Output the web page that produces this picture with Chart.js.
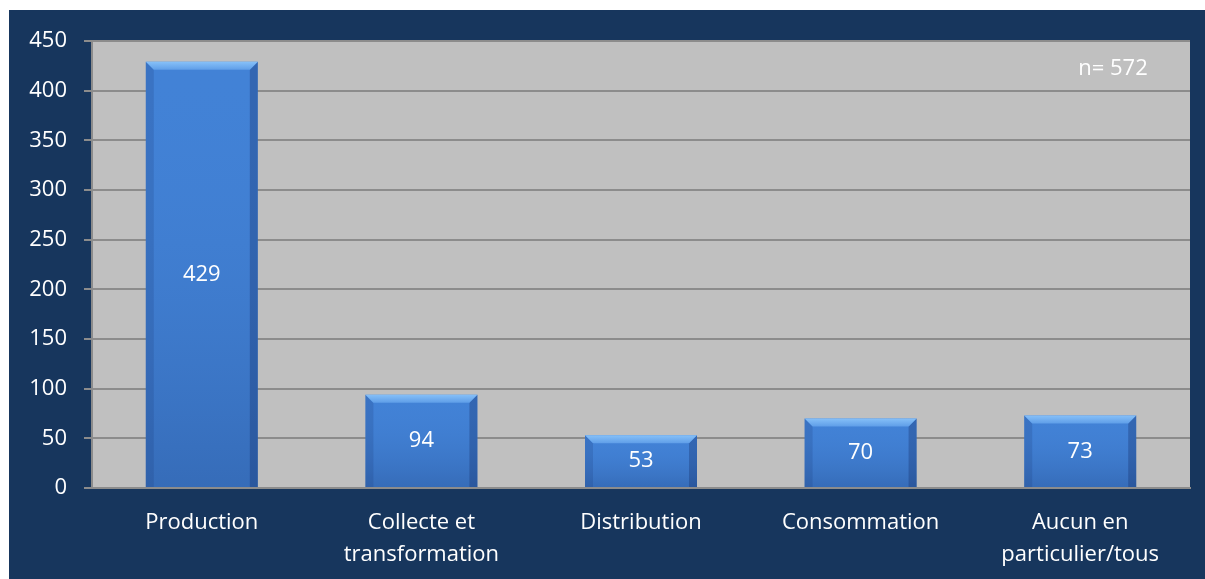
<!DOCTYPE html>
<html><head><meta charset="utf-8">
<script src="https://cdn.jsdelivr.net/npm/chart.js@4/dist/chart.umd.min.js"></script>
<style>html{background:#17365D}html,body{margin:0;padding:0;overflow:hidden}canvas{display:block}</style>
</head><body><canvas id="c" width="1205" height="579"></canvas>
<script>
const categories = [["Production"], ["Collecte et", "transformation"], ["Distribution"], ["Consommation"], ["Aucun en", "particulier/tous"]];
const values = [429, 94, 53, 70, 73];
const yTickValues = [0, 50, 100, 150, 200, 250, 300, 350, 400, 450];
const sampleNote = "n= 572";

const NAVY = '#17365D', PLOT = '#C0C0C0', GRID = '#8C8C8C';
const FONT = '"Open Sans", Lato, sans-serif';
const FSIZE = 22;

const bgPlugin = {
  id: 'bg',
  beforeDraw(chart) {
    const ctx = chart.ctx, a = chart.chartArea;
    ctx.save();
    ctx.fillStyle = '#ffffff';
    ctx.fillRect(0, 0, chart.width, chart.height);
    ctx.fillStyle = NAVY;
    ctx.fillRect(9, 10, chart.width - 9, chart.height - 10);
    ctx.fillStyle = PLOT;
    ctx.fillRect(a.left, a.top, a.right - a.left, a.bottom - a.top);
    ctx.restore();
  }
};

const barDeco = {
  id: 'barDeco',
  afterDatasetsDraw(chart) {
    const ctx = chart.ctx, a = chart.chartArea;
    const meta = chart.getDatasetMeta(0);
    ctx.save();
    meta.data.forEach((el, i) => {
      const w = el.width, l = el.x - w / 2, r = el.x + w / 2, t = el.y, b = el.base;
      const bv = 8;
      const g = ctx.createLinearGradient(0, t, 0, b);
      g.addColorStop(0, 'rgba(70,130,220,0)');
      g.addColorStop(1, 'rgba(10,30,80,0.22)');
      ctx.fillStyle = g;
      ctx.fillRect(l, t, w, b - t);
      ctx.fillStyle = 'rgba(20,50,110,0.18)';
      ctx.beginPath(); ctx.moveTo(l, t); ctx.lineTo(l + bv, t + bv); ctx.lineTo(l + bv, b); ctx.lineTo(l, b); ctx.closePath(); ctx.fill();
      ctx.fillStyle = 'rgba(15,40,95,0.3)';
      ctx.beginPath(); ctx.moveTo(r, t); ctx.lineTo(r - bv, t + bv); ctx.lineTo(r - bv, b); ctx.lineTo(r, b); ctx.closePath(); ctx.fill();
      const tg = ctx.createLinearGradient(0, t, 0, t + bv);
      tg.addColorStop(0, '#86C0F8');
      tg.addColorStop(1, '#5F9EE8');
      ctx.fillStyle = tg;
      ctx.beginPath(); ctx.moveTo(l, t); ctx.lineTo(r, t); ctx.lineTo(r - bv, t + bv); ctx.lineTo(l + bv, t + bv); ctx.closePath(); ctx.fill();
      ctx.fillStyle = '#ffffff';
      ctx.font = FSIZE + 'px ' + FONT;
      ctx.textAlign = 'center';
      ctx.textBaseline = 'middle';
      ctx.fillText(String(values[i]), el.x, (t + b) / 2);
    });
    ctx.fillStyle = '#ffffff';
    ctx.font = FSIZE + 'px ' + FONT;
    ctx.textAlign = 'center';
    ctx.textBaseline = 'middle';
    ctx.fillText(sampleNote, a.right - 77, a.top + 28);
    ctx.restore();
  }
};

new Chart(document.getElementById('c'), {
  type: 'bar',
  data: {
    labels: categories,
    datasets: [{
      data: values,
      backgroundColor: '#4282D6',
      borderWidth: 0,
      barPercentage: 1,
      categoryPercentage: 0.51
    }]
  },
  options: {
    responsive: false,
    animation: false,
    layout: { padding: { left: 0, top: 41, right: 15, bottom: 0 } },
    plugins: { legend: { display: false }, tooltip: { enabled: false } },
    scales: {
      x: {
        grid: { display: false },
        border: { display: true, color: GRID, width: 2 },
        ticks: { color: '#ffffff', font: { family: FONT, size: FSIZE, lineHeight: 1.45 }, padding: 11, maxRotation: 0, autoSkip: false },
        afterFit(s) { s.height = 91; }
      },
      y: {
        min: 0, max: 450,
        afterBuildTicks(s) { s.ticks = yTickValues.map(v => ({ value: v })); },
        grid: { color: GRID, lineWidth: 2, drawTicks: true, tickLength: 8 },
        border: { display: true, color: GRID, width: 2 },
        ticks: { color: '#ffffff', font: { family: FONT, size: FSIZE }, padding: 17 },
        afterFit(s) { s.width = 92; }
      }
    }
  },
  plugins: [bgPlugin, barDeco]
});
</script></body></html>
